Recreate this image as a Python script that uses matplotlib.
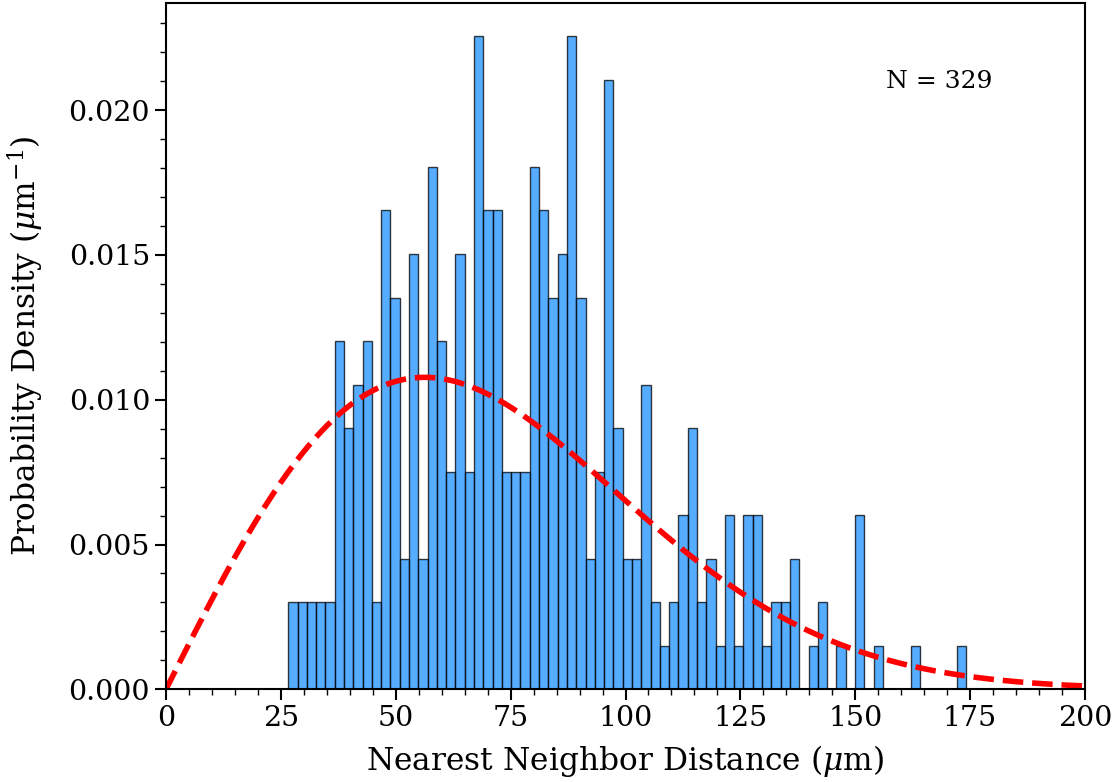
import matplotlib
matplotlib.use("Agg")
import matplotlib.pyplot as plt
from matplotlib.ticker import MultipleLocator
import numpy as np

# histogram counts per bin (2 um wide bins)
bin_start = 26.6
bin_stop = 174.2
counts = [2, 2, 2, 2, 2, 8, 6, 7, 8, 2,
          11, 9, 3, 10, 3, 12, 8, 5, 10, 5,
          15, 11, 11, 5, 5, 5, 12, 11, 9, 10,
          15, 9, 3, 5, 14, 6, 3, 3, 7, 2,
          1, 2, 4, 6, 2, 3, 1, 4, 1, 4,
          4, 1, 2, 2, 3, 0, 1, 2, 0, 1,
          0, 4, 0, 1, 0, 0, 0, 1, 0, 0,
          0, 0, 1]
n_total = 329

# fitted nearest neighbour (Rayleigh) curve parameter
sigma = 56.3

plt.rcParams['font.family'] = ['DejaVu Serif']
plt.rcParams['mathtext.fontset'] = 'dejavuserif'

counts = np.array(counts, dtype=float)
edges = np.linspace(bin_start, bin_stop, len(counts) + 1)
width = edges[1] - edges[0]
density = counts / (n_total * width)

fig = plt.figure(figsize=(11.18, 7.82), dpi=100)
ax = fig.add_axes([166 / 1118, 1 - 689.3 / 782, (1085 - 166) / 1118, (689.3 - 3) / 782])

ax.bar(edges[:-1], density, width=width, align='edge',
       color='dodgerblue', alpha=0.75, edgecolor='black', linewidth=1.0)

x = np.linspace(0, 200, 400)
y = x / sigma ** 2 * np.exp(-x ** 2 / (2 * sigma ** 2))
ax.plot(x, y, color='red', linestyle='--', linewidth=4)

ax.set_xlim(0, 200)
ax.set_ylim(0, 0.0237)
ax.xaxis.set_major_locator(MultipleLocator(25))
ax.xaxis.set_minor_locator(MultipleLocator(5))
ax.yaxis.set_major_locator(MultipleLocator(0.005))
ax.yaxis.set_minor_locator(MultipleLocator(0.001))
ax.tick_params(which='major', length=8, width=1.5, labelsize=20.5, direction='out')
ax.tick_params(which='minor', length=4, width=1.0, direction='out')
for s in ax.spines.values():
    s.set_linewidth(1.5)

ax.set_xlabel(r'Nearest Neighbor Distance ($\mu$m)', fontsize=22.5, labelpad=8)
ax.set_ylabel(r'Probability Density ($\mu$m$^{-1}$)', fontsize=22.5, labelpad=16)
ax.text(0.784, 0.885, 'N = 329', transform=ax.transAxes, fontsize=18, va='center')

fig.savefig('out.png', dpi=100)
